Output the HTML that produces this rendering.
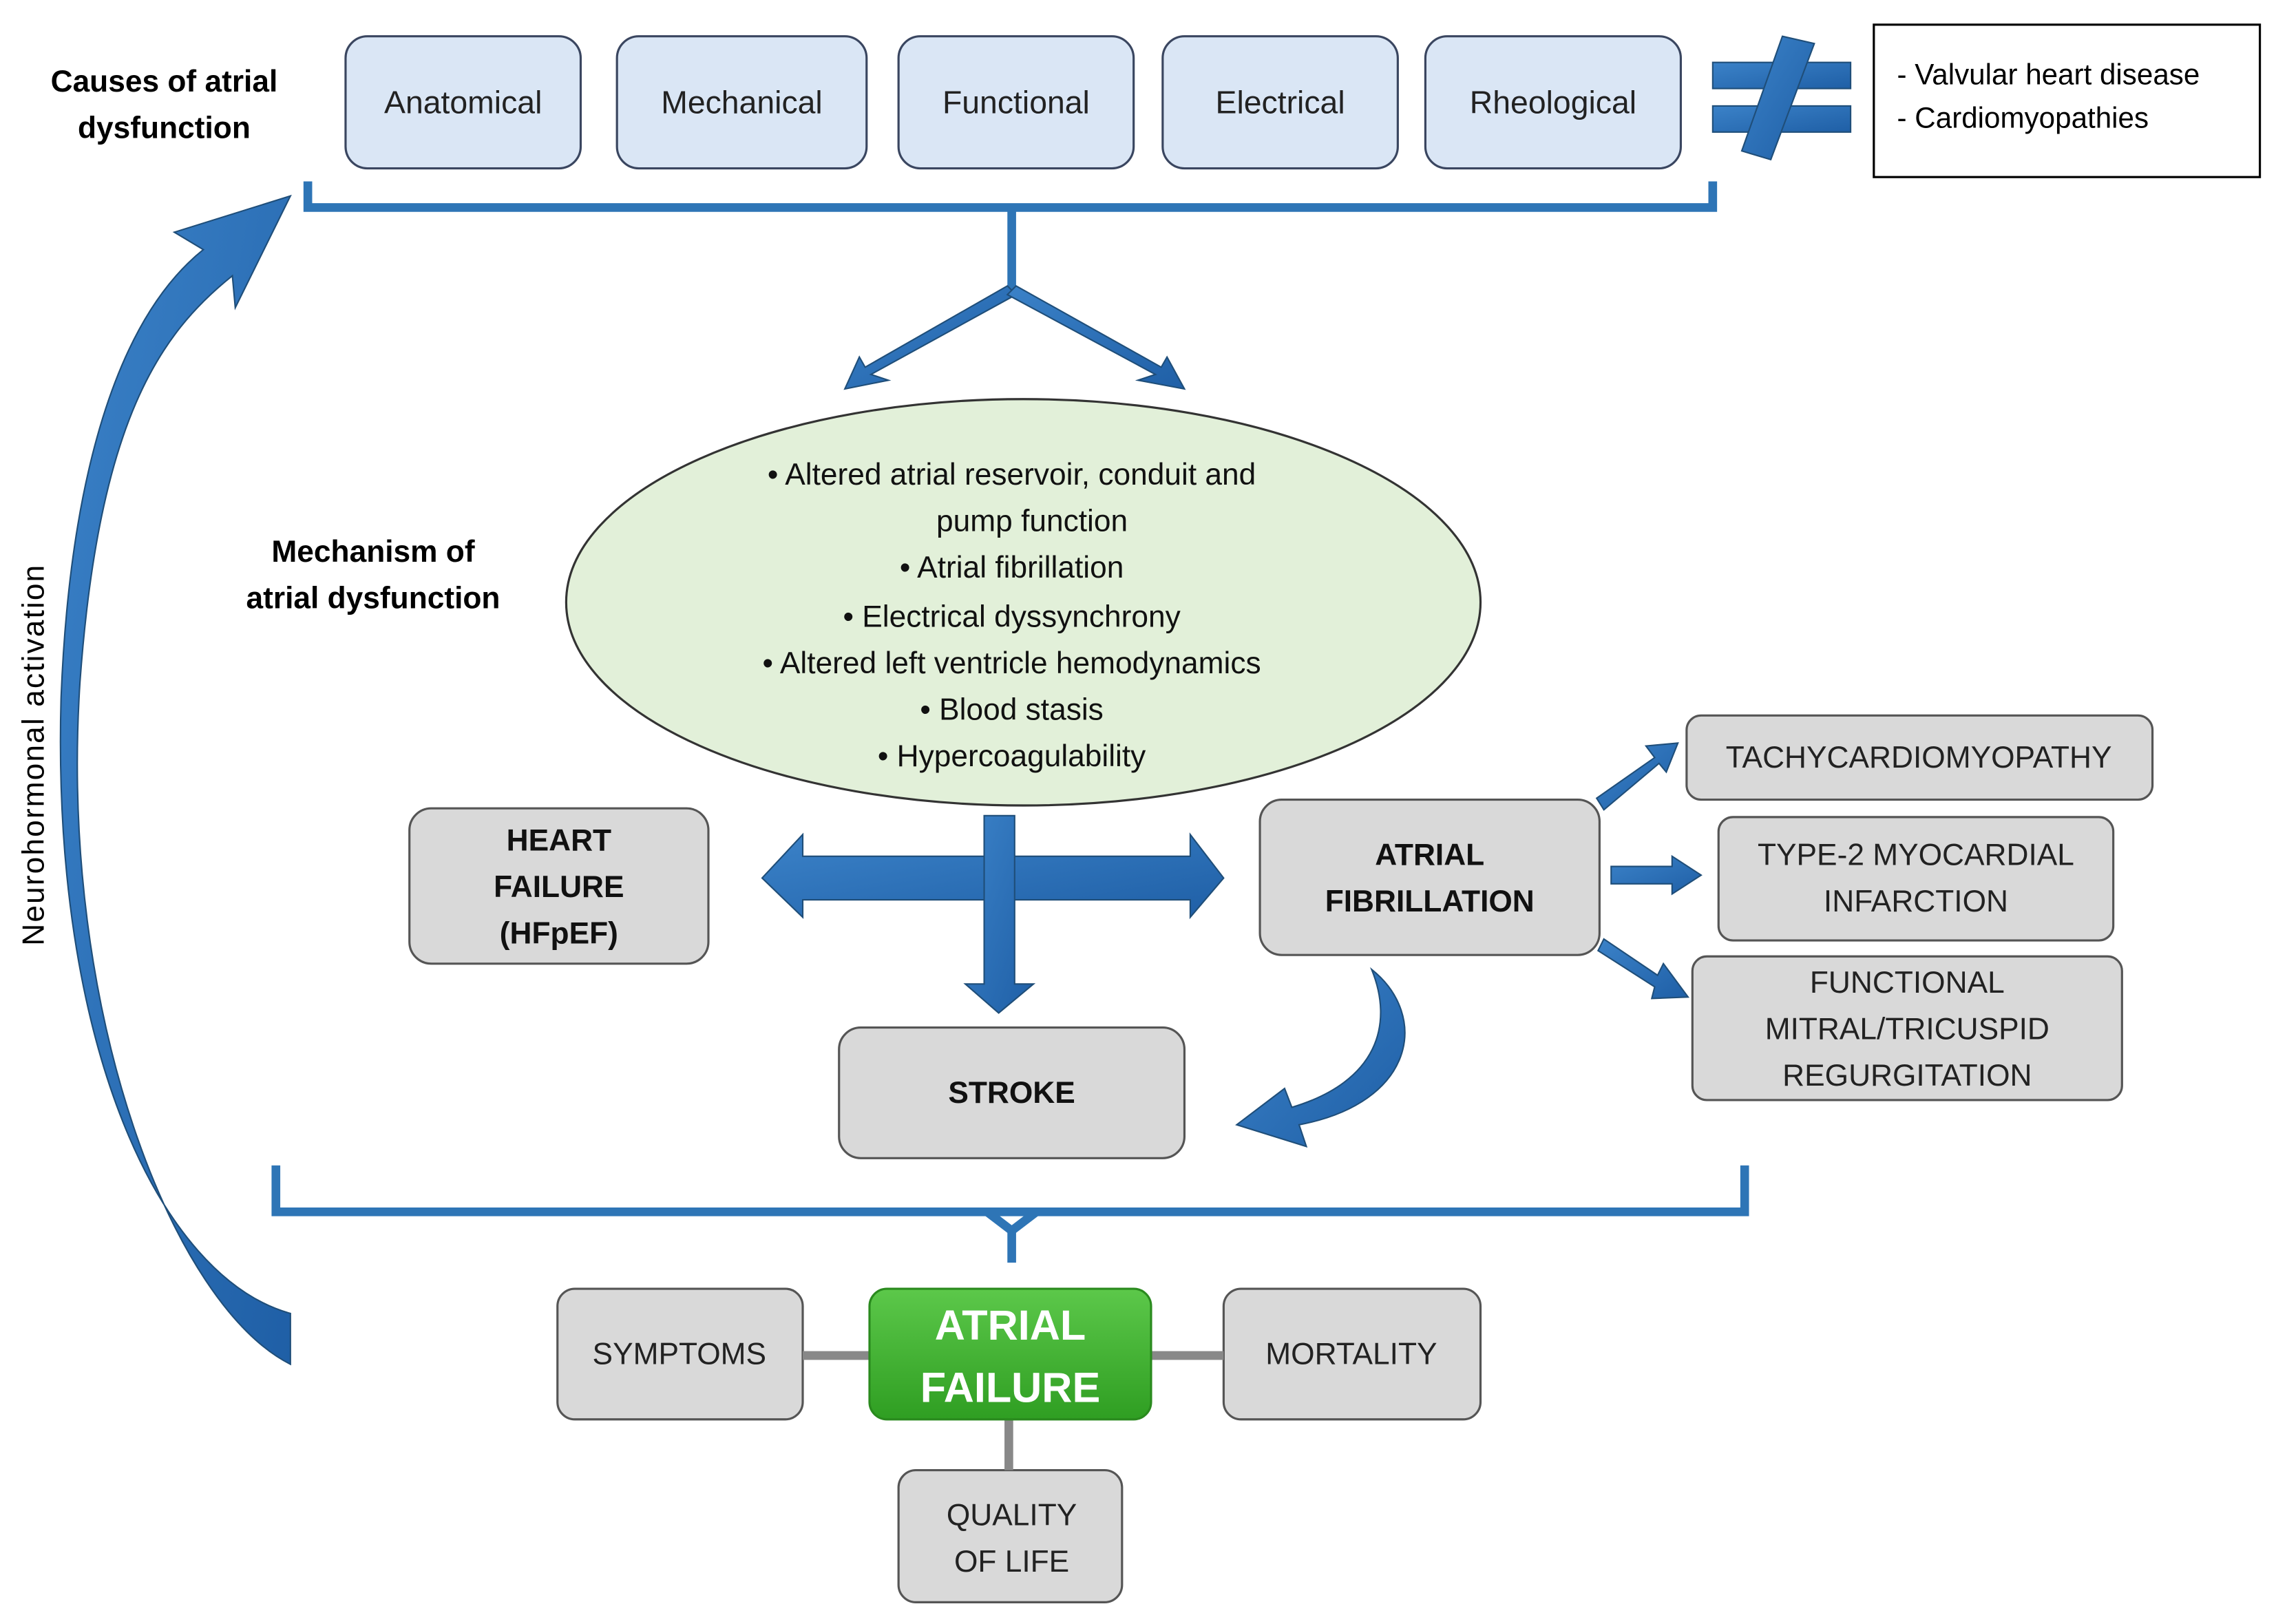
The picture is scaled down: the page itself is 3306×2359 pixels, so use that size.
<!DOCTYPE html>
<html><head><meta charset="utf-8">
<style>
html,body{margin:0;padding:0;background:#fff;}
svg{display:block;}
text{font-family:"Liberation Sans",sans-serif;}
</style></head>
<body>
<svg width="3306" height="2359" viewBox="0 0 1568 1119" xmlns="http://www.w3.org/2000/svg">
<defs>
<linearGradient id="bl" x1="0" y1="0" x2="1" y2="1">
<stop offset="0" stop-color="#3b82c8"/><stop offset="1" stop-color="#1f5fa6"/></linearGradient>
<linearGradient id="gr" x1="0" y1="0" x2="0" y2="1">
<stop offset="0" stop-color="#5cc84a"/><stop offset="1" stop-color="#2f9e22"/></linearGradient>
</defs>

<!-- Causes title -->
<text x="113" y="63" font-size="21" font-weight="bold" text-anchor="middle">Causes of atrial</text>
<text x="113" y="95" font-size="21" font-weight="bold" text-anchor="middle">dysfunction</text>

<g fill="#dae6f5" stroke="#3a4660" stroke-width="1.5">
<rect x="238" y="25" width="162" height="91" rx="15"/>
<rect x="425" y="25" width="172" height="91" rx="15"/>
<rect x="619" y="25" width="162" height="91" rx="15"/>
<rect x="801" y="25" width="162" height="91" rx="15"/>
<rect x="982" y="25" width="176" height="91" rx="15"/>
</g>
<g font-size="22" text-anchor="middle" fill="#222">
<text x="319" y="78">Anatomical</text>
<text x="511" y="78">Mechanical</text>
<text x="700" y="78">Functional</text>
<text x="882" y="78">Electrical</text>
<text x="1070" y="78">Rheological</text>
</g>

<!-- not equal sign -->
<g fill="url(#bl)" stroke="#1f4e79" stroke-width="1">
<rect x="1180" y="43" width="95" height="18"/>
<rect x="1180" y="73" width="95" height="18"/>
<polygon points="1228,25 1250,30 1220,110 1200,104"/>
</g>

<rect x="1291" y="17" width="266" height="105" fill="#fff" stroke="#000" stroke-width="1.5"/>
<text x="1307" y="58" font-size="20">- Valvular heart disease</text>
<text x="1307" y="88" font-size="20">- Cardiomyopathies</text>

<!-- top bracket -->
<g fill="none" stroke="#2e75b6" stroke-width="6">
<polyline points="212,125 212,143 1180,143 1180,125"/>
<line x1="697" y1="143" x2="697" y2="200"/>
</g>
<g fill="url(#bl)" stroke="#1f4e79" stroke-width="1">
<polygon points="694,197 700,203 600,258 612,262 582,268 592,246 596,253"/>
<polygon points="700,197 694,203 796,258 784,262 816,268 804,246 800,253"/>
</g>

<!-- left big curved arrow -->
<path d="M200,940 C120,900 40,700 55,470 C68,290 110,230 160,190 L162,212 L200,135 L120,160 L140,172 C80,220 48,330 42,480 C35,720 110,880 200,905 Z" fill="url(#bl)" stroke="#1f4e79" stroke-width="1"/>
<text transform="translate(30,520) rotate(-90)" font-size="21" text-anchor="middle" letter-spacing="1">Neurohormonal  activation</text>

<!-- mechanism -->
<text x="257" y="387" font-size="21" font-weight="bold" text-anchor="middle">Mechanism of</text>
<text x="257" y="419" font-size="21" font-weight="bold" text-anchor="middle">atrial dysfunction</text>
<ellipse cx="705" cy="415" rx="315" ry="140" fill="#e2f0d9" stroke="#333" stroke-width="1.5"/>
<g font-size="21" text-anchor="middle" fill="#111">
<text x="697" y="334">•   Altered atrial reservoir, conduit and</text>
<text x="711" y="366">pump function</text>
<text x="697" y="398">•   Atrial fibrillation</text>
<text x="697" y="432">•   Electrical dyssynchrony</text>
<text x="697" y="464">•   Altered left ventricle hemodynamics</text>
<text x="697" y="496">•   Blood stasis</text>
<text x="697" y="528">•   Hypercoagulability</text>
</g>

<!-- gray boxes -->
<g fill="#d9d9d9" stroke="#555" stroke-width="1.5">
<rect x="282" y="557" width="206" height="107" rx="15"/>
<rect x="868" y="551" width="234" height="107" rx="15"/>
<rect x="578" y="708" width="238" height="90" rx="15"/>
<rect x="1162" y="493" width="321" height="58" rx="10"/>
<rect x="1184" y="563" width="272" height="85" rx="10"/>
<rect x="1166" y="659" width="296" height="99" rx="10"/>
<rect x="384" y="888" width="169" height="90" rx="12"/>
<rect x="843" y="888" width="177" height="90" rx="12"/>
<rect x="619" y="1013" width="154" height="91" rx="12"/>
</g>
<g font-size="21" font-weight="bold" text-anchor="middle" fill="#111">
<text x="385" y="586">HEART</text>
<text x="385" y="618">FAILURE</text>
<text x="385" y="650">(HFpEF)</text>
<text x="985" y="596">ATRIAL</text>
<text x="985" y="628">FIBRILLATION</text>
<text x="697" y="760">STROKE</text>
</g>
<g font-size="21" text-anchor="middle" fill="#222">
<text x="1322" y="529">TACHYCARDIOMYOPATHY</text>
<text x="1320" y="596">TYPE-2 MYOCARDIAL</text>
<text x="1320" y="628">INFARCTION</text>
<text x="1314" y="684">FUNCTIONAL</text>
<text x="1314" y="716">MITRAL/TRICUSPID</text>
<text x="1314" y="748">REGURGITATION</text>
<text x="468" y="940">SYMPTOMS</text>
<text x="931" y="940">MORTALITY</text>
<text x="697" y="1051">QUALITY</text>
<text x="697" y="1083">OF LIFE</text>
</g>

<!-- central arrows -->
<g fill="url(#bl)" stroke="#1f4e79" stroke-width="1">
<polygon points="525,605 553,575 553,590 820,590 820,575 843,605 820,632 820,620 553,620 553,632"/>
<polygon points="678,562 699,562 699,678 712,678 688,698 665,678 678,678"/>
<path d="M945,668 C985,700 975,760 895,775 L900,790 L852,775 L885,750 L890,763 C950,745 960,705 945,668 Z"/>
<polygon points="1100,550 1140,522 1134,514 1156,512 1148,532 1143,526 1105,558"/>
<polygon points="1110,597 1152,597 1152,590 1172,603 1152,616 1152,609 1110,609"/>
<polygon points="1105,647 1142,672 1146,664 1163,687 1138,688 1140,680 1101,655"/>
</g>

<!-- bottom bracket -->
<g fill="none" stroke="#2e75b6" stroke-width="6">
<polyline points="190,803 190,835 1202,835 1202,803"/>
<polyline points="680,835 697,848 714,835"/>
<line x1="697" y1="845" x2="697" y2="870"/>
</g>

<!-- connectors -->
<g stroke="#888" stroke-width="6">
<line x1="553" y1="934" x2="600" y2="934"/>
<line x1="792" y1="934" x2="843" y2="934"/>
<line x1="695" y1="978" x2="695" y2="1013"/>
</g>
<rect x="599" y="888" width="194" height="90" rx="12" fill="url(#gr)" stroke="#2a8a1e" stroke-width="1.5"/>
<text x="696" y="923" font-size="29" font-weight="bold" text-anchor="middle" fill="#fff">ATRIAL</text>
<text x="696" y="966" font-size="29" font-weight="bold" text-anchor="middle" fill="#fff">FAILURE</text>
</svg>
</body></html>
